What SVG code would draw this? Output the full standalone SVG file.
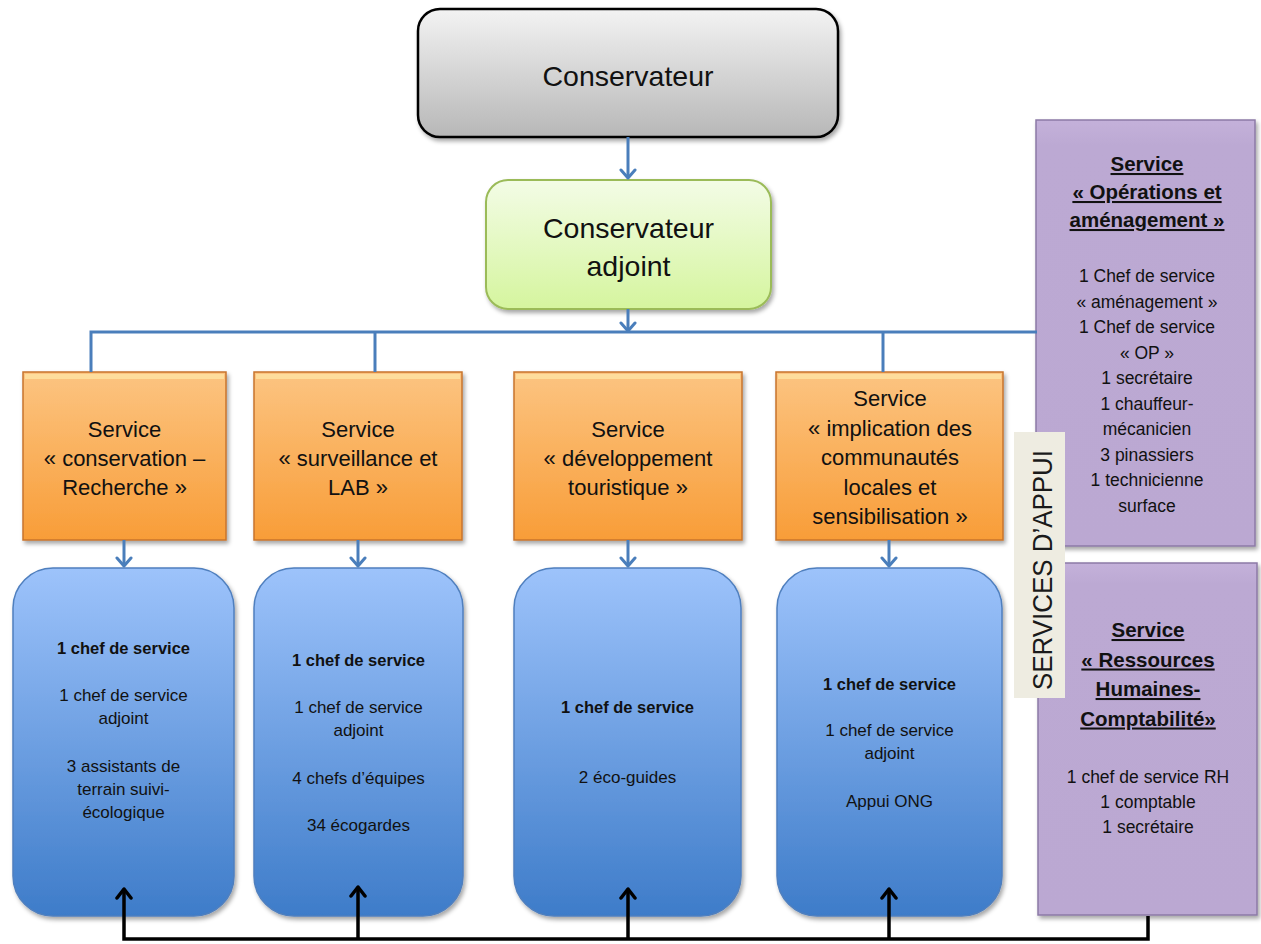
<svg xmlns="http://www.w3.org/2000/svg" width="1261" height="944" viewBox="0 0 1261 944">
<defs>
<style>
text{font-family:"Liberation Sans",Arial,sans-serif;fill:#111;text-anchor:middle}
.big{font-size:28.5px}
.or{font-size:22px}
.bl{font-size:17px}
.blb{font-size:16.5px;font-weight:bold}
.pt{font-size:20.5px;font-weight:bold;text-decoration:underline}
.pr{font-size:17.5px}
.lab{font-size:27px;fill:#1a1a1a}
.orange{fill:url(#gOr);stroke:#c8742c;stroke-width:1.5;filter:url(#sh)}
.hl{fill:#ffe6a6;opacity:.75}
.blue{fill:url(#gBl);stroke:#4f7fbe;stroke-width:1.5;filter:url(#sh)}
.purple{fill:url(#gPu);stroke:#8c7aa6;stroke-width:1.5;filter:url(#sh)}
.cb{fill:none;stroke:#4a7ebb;stroke-width:3}
.ck{fill:none;stroke:#000;stroke-width:3.5}
</style>
<linearGradient id="gGr" x1="0" y1="0" x2="0" y2="1"><stop offset="0" stop-color="#f3f3f3"/><stop offset="1" stop-color="#b7b7b7"/></linearGradient>
<linearGradient id="gGn" x1="0" y1="0" x2="0" y2="1"><stop offset="0" stop-color="#f3fce6"/><stop offset="1" stop-color="#d5f59e"/></linearGradient>
<linearGradient id="gOr" x1="0" y1="0" x2="0" y2="1"><stop offset="0" stop-color="#fcc481"/><stop offset="1" stop-color="#f89d38"/></linearGradient>
<linearGradient id="gBl" x1="0" y1="0" x2="0" y2="1"><stop offset="0" stop-color="#9dc3fb"/><stop offset="1" stop-color="#3e7cc9"/></linearGradient>
<linearGradient id="gPu" x1="0" y1="0" x2="0" y2="1"><stop offset="0" stop-color="#c4b1da"/><stop offset="0.06" stop-color="#bca9d3"/><stop offset="1" stop-color="#bba8d2"/></linearGradient>
<filter id="sh" x="-10%" y="-10%" width="125%" height="125%"><feDropShadow dx="2" dy="3" stdDeviation="2" flood-color="#000" flood-opacity="0.35"/></filter>
<marker id="ab" markerUnits="userSpaceOnUse" markerWidth="12" markerHeight="18" viewBox="0 0 12 18" refX="10" refY="9" orient="auto"><path d="M2,2 L10,9 L2,16" fill="none" stroke="#4a7ebb" stroke-width="3" stroke-linecap="round" stroke-linejoin="round"/></marker>
<marker id="ak" markerUnits="userSpaceOnUse" markerWidth="13" markerHeight="18" viewBox="0 0 13 18" refX="11" refY="9" orient="auto"><path d="M2,2 L11,9 L2,16" fill="none" stroke="#000" stroke-width="3.5" stroke-linecap="round" stroke-linejoin="round"/></marker>
</defs>
<rect width="1261" height="944" fill="#fff"/>

<g id="n-conservateur">
<rect x="418" y="9" width="420" height="128" rx="22" fill="url(#gGr)" stroke="#000" stroke-width="2.5" filter="url(#sh)"/>
<text class="big" x="628" y="86">Conservateur</text>
</g>

<g id="n-adjoint">
<rect x="486" y="180" width="285" height="129" rx="22" fill="url(#gGn)" stroke="#9bbb59" stroke-width="2" filter="url(#sh)"/>
<text class="big" x="628.5" y="238">Conservateur</text>
<text class="big" x="628.5" y="276">adjoint</text>
</g>

<g id="n-svc-conservation">
<rect class="orange" x="23" y="372" width="203" height="168"/>
<rect class="hl" x="25" y="374" width="199" height="5"/>
<text class="or" x="124.5" y="437">Service</text>
<text class="or" x="124.5" y="466">« conservation –</text>
<text class="or" x="124.5" y="495">Recherche »</text>
</g>

<g id="n-svc-surveillance">
<rect class="orange" x="254" y="372" width="208" height="168"/>
<rect class="hl" x="256" y="374" width="204" height="5"/>
<text class="or" x="358" y="437">Service</text>
<text class="or" x="358" y="466">« surveillance et</text>
<text class="or" x="358" y="495">LAB »</text>
</g>

<g id="n-svc-tourisme">
<rect class="orange" x="514" y="372" width="228" height="168"/>
<rect class="hl" x="516" y="374" width="224" height="5"/>
<text class="or" x="628" y="437">Service</text>
<text class="or" x="628" y="466">« développement</text>
<text class="or" x="628" y="495">touristique »</text>
</g>

<g id="n-svc-communautes">
<rect class="orange" x="776" y="372" width="227" height="168"/>
<rect class="hl" x="778" y="374" width="223" height="5"/>
<text class="or" x="890" y="406">Service</text>
<text class="or" x="890" y="435.5">« implication des</text>
<text class="or" x="890" y="465">communautés</text>
<text class="or" x="890" y="494.5">locales et</text>
<text class="or" x="890" y="524">sensibilisation »</text>
</g>

<g id="n-staff-conservation">
<rect class="blue" x="13" y="568" width="221" height="348" rx="40"/>
<text class="blb" x="123.5" y="654">1 chef de service</text>
<text class="bl" x="123.5" y="701">1 chef de service</text>
<text class="bl" x="123.5" y="724">adjoint</text>
<text class="bl" x="123.5" y="772">3 assistants de</text>
<text class="bl" x="123.5" y="795">terrain suivi-</text>
<text class="bl" x="123.5" y="818">écologique</text>
</g>

<g id="n-staff-surveillance">
<rect class="blue" x="254" y="568" width="209" height="348" rx="40"/>
<text class="blb" x="358.5" y="666">1 chef de service</text>
<text class="bl" x="358.5" y="713">1 chef de service</text>
<text class="bl" x="358.5" y="736">adjoint</text>
<text class="bl" x="358.5" y="784">4 chefs d’équipes</text>
<text class="bl" x="358.5" y="831">34 écogardes</text>
</g>

<g id="n-staff-tourisme">
<rect class="blue" x="514" y="568" width="227" height="348" rx="40"/>
<text class="blb" x="627.5" y="713">1 chef de service</text>
<text class="bl" x="627.5" y="783">2 éco-guides</text>
</g>

<g id="n-staff-communautes">
<rect class="blue" x="777" y="568" width="225" height="348" rx="40"/>
<text class="blb" x="889.5" y="690">1 chef de service</text>
<text class="bl" x="889.5" y="736">1 chef de service</text>
<text class="bl" x="889.5" y="759">adjoint</text>
<text class="bl" x="889.5" y="807">Appui ONG</text>
</g>

<g id="n-svc-operations">
<rect class="purple" x="1036" y="120" width="219" height="426"/>
<text class="pt" x="1147" y="171">Service</text>
<text class="pt" x="1147" y="199">« Opérations et</text>
<text class="pt" x="1147" y="227">aménagement »</text>
<text class="pr" x="1147" y="282">1 Chef de service</text>
<text class="pr" x="1147" y="307.5">« aménagement »</text>
<text class="pr" x="1147" y="333">1 Chef de service</text>
<text class="pr" x="1147" y="358.5">« OP »</text>
<text class="pr" x="1147" y="384">1 secrétaire</text>
<text class="pr" x="1147" y="409.5">1 chauffeur-</text>
<text class="pr" x="1147" y="435">mécanicien</text>
<text class="pr" x="1147" y="460.5">3 pinassiers</text>
<text class="pr" x="1147" y="486">1 technicienne</text>
<text class="pr" x="1147" y="511.5">surface</text>
</g>

<g id="n-svc-rh">
<rect class="purple" x="1038" y="563" width="219" height="352"/>
<text class="pt" x="1148" y="637">Service</text>
<text class="pt" x="1148" y="666.5">« Ressources</text>
<text class="pt" x="1148" y="696">Humaines-</text>
<text class="pt" x="1148" y="725.5">Comptabilité»</text>
<text class="pr" x="1148" y="783">1 chef de service RH</text>
<text class="pr" x="1148" y="808">1 comptable</text>
<text class="pr" x="1148" y="833">1 secrétaire</text>
</g>

<g id="n-label-appui">
<rect x="1014" y="432" width="51" height="266" fill="#eeece1"/>
<text class="lab" transform="translate(1052,570) rotate(-90)" textLength="240" lengthAdjust="spacingAndGlyphs">SERVICES D’APPUI</text>
</g>

<g id="connectors">
<path class="cb" d="M628,137 V178" marker-end="url(#ab)"/>
<path class="cb" d="M628,309 V331" marker-end="url(#ab)"/>
<path class="cb" d="M91,372 V332 H1037"/>
<path class="cb" d="M375,332 V372"/>
<path class="cb" d="M883,332 V372"/>
<path class="cb" d="M124,540 V566" marker-end="url(#ab)"/>
<path class="cb" d="M358,540 V566" marker-end="url(#ab)"/>
<path class="cb" d="M628,540 V566" marker-end="url(#ab)"/>
<path class="cb" d="M889,540 V566" marker-end="url(#ab)"/>
<path class="ck" d="M1148,916 V939 H124 V889" marker-end="url(#ak)"/>
<path class="ck" d="M358,939 V887" marker-end="url(#ak)"/>
<path class="ck" d="M628,939 V889" marker-end="url(#ak)"/>
<path class="ck" d="M889,939 V889" marker-end="url(#ak)"/>
</g>
</svg>
